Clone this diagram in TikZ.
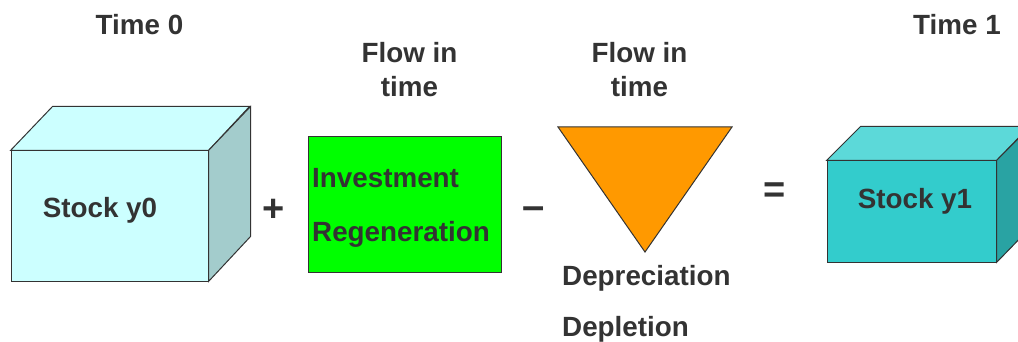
\documentclass[tikz,border=0pt]{standalone}
\usepackage{fontspec}
\setmainfont{Liberation Sans}
\usetikzlibrary{calc,positioning}
\definecolor{ink}{HTML}{333333}
\definecolor{paleface}{HTML}{CCFFFF}
\definecolor{paleside}{HTML}{A3CCCC}
\definecolor{tealface}{HTML}{33CCCC}
\definecolor{tealtop}{HTML}{5CD9D9}
\definecolor{tealside}{HTML}{29A3A3}
\definecolor{flowgreen}{HTML}{00FF00}
\definecolor{floworange}{HTML}{FF9900}
\tikzset{lbl/.style={font=\fontsize{27.8}{32}\selectfont\bfseries,text=ink,inner
sep=0pt,anchor=base},op/.style={font=\fontsize{38}{40}\selectfont\bfseries,text=ink,inner
sep=0pt,anchor=base}}

\begin{document}
\begin{tikzpicture}[x=1pt,y=-1pt,face/.style={draw=ink,line width=1pt,inner
					sep=0pt},front/.style={face,rectangle}]
		\useasboundingbox (0,0) rectangle (1018,342);
		\clip (0,0) rectangle (1018,342);
		% stock at time 0
		\node[front,fill=paleface,minimum width=197pt,minimum height=130pt] (s0) at (109.5,216) {};
		\filldraw[face,fill=paleface] (s0.north west) -- ++(42,-44) -- ++(197,0) -- (s0.north east) -- cycle;
		\filldraw[face,fill=paleside] (s0.north east) -- ++(42,-44) -- ++(0,130) -- (s0.south east) -- cycle;
		\node[lbl] (s0text) at (100,218) {Stock y0};
		\node[lbl] (t0) at (139.5,35) {Time 0};
		% inflow
		\node[front,fill=flowgreen,minimum width=193pt,minimum height=135pt] (inv) at (404.5,204.5) {};
		\node[lbl,anchor=base west] (invA) at (312,188) {Investment};
		\node[lbl,anchor=base west] (invB) at (312,241) {Regeneration};
		\node[lbl] (fin1) at (409.5,63) {Flow in};
		\node[lbl] (fin2) at (409.5,97) {time};
		% outflow
		\coordinate (dl) at (558,127);
		\coordinate (dr) at (732,127);
		\coordinate (db) at (645,252);
		\filldraw[face,fill=floworange] (dl) -- (dr) -- (db) -- cycle;
		\node[lbl,anchor=base west] (depA) at (562,285) {Depreciation};
		\node[lbl,anchor=base west] (depB) at (562,336) {Depletion};
		\node[lbl] (fout1) at (639.5,63) {Flow in};
		\node[lbl] (fout2) at (639.5,97) {time};
		% stock at time 1
		\node[front,fill=tealface,minimum width=169pt,minimum height=101pt] (s1) at (911.5,211.5) {};
		\filldraw[face,fill=tealtop] (s1.north west) -- ++(34,-34) -- ++(169,0) -- (s1.north east) -- cycle;
		\filldraw[face,fill=tealside] (s1.north east) -- ++(34,-34) -- ++(0,101) -- (s1.south east) -- cycle;
		\node[lbl] (s1text) at (915,208) {Stock y1};
		\node[lbl] (t1) at (957,35) {Time 1};
		% operators
		\node[op] (plus) at (274,221.5) {+};
		\node[op,font=\fontsize{40}{40}\selectfont\bfseries] (minus) at (533.5,219) {--};
		\node[op] (equal) at (774.5,202) {=};
	\end{tikzpicture}
\end{document}
